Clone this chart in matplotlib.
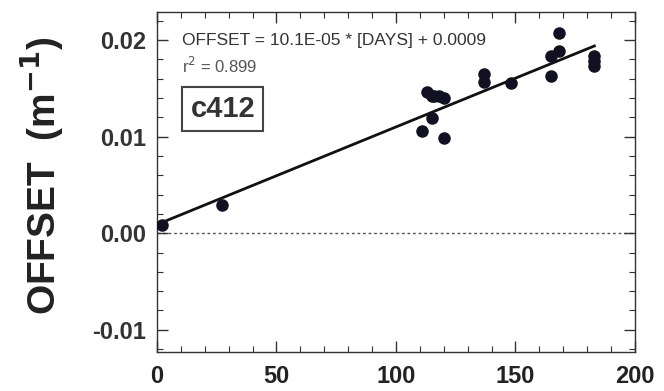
import numpy as np
import matplotlib.pyplot as plt
from matplotlib.ticker import MultipleLocator

days = [2, 27, 111, 113, 115, 116, 118, 120, 115, 120,
        137, 137, 148, 165, 165, 168, 168, 183, 183, 183]
offset = [0.0008, 0.0029, 0.0106, 0.0146, 0.0142, 0.0142, 0.0142, 0.0140, 0.0119, 0.0099,
          0.0165, 0.0157, 0.0155, 0.0183, 0.0163, 0.0207, 0.0189, 0.0183, 0.0178, 0.0173]

slope = 10.1e-05
intercept = 0.0009
r2 = 0.899
fit_days = [0, 183]

plt.rcParams['font.family'] = ['Liberation Sans', 'DejaVu Sans']

fig = plt.figure(figsize=(6.64, 3.91), dpi=100)
ax = fig.add_axes([0.2364, 0.0997, 0.7199, 0.8696])

fit_x = np.array(fit_days)
ax.plot(fit_x, slope * fit_x + intercept, color='#111111', lw=2.0, zorder=3)
ax.plot(days, offset, 'o', color='#111122', ms=8, zorder=4)
ax.axhline(0, color='#555555', lw=1.0, ls=(0, (2, 2)), zorder=1)

ax.set_xlim(0, 200)
ax.set_ylim(-0.0123, 0.0229)
ax.xaxis.set_major_locator(MultipleLocator(50))
ax.xaxis.set_minor_locator(MultipleLocator(10))
ax.yaxis.set_major_locator(MultipleLocator(0.01))
ax.yaxis.set_minor_locator(MultipleLocator(0.002))
ax.yaxis.set_major_formatter(plt.FuncFormatter(lambda v, p: f'{v:.2f}'))

ax.tick_params(which='both', direction='in', top=True, right=True, color='#333333')
ax.tick_params(which='major', length=8, width=1.0)
ax.tick_params(which='minor', length=4, width=0.8)
ax.tick_params(axis='y', labelsize=17, pad=8, labelcolor='#333333')
ax.tick_params(axis='x', labelsize=17, pad=9, labelcolor='#222222')
for lab in ax.get_xticklabels() + ax.get_yticklabels():
    lab.set_fontweight('bold')
for s in ax.spines.values():
    s.set_color('#333333')
    s.set_linewidth(1.0)

fig.text(0.062, 0.55, 'OFFSET  (m$^{\\mathbf{-1}}$)', rotation=90, ha='center', va='center',
         fontsize=28, fontweight='bold', color='#222222')

ax.text(0.052, 0.915, f'OFFSET = {slope * 1e5:.1f}E-05 * [DAYS] + {intercept:.4f}',
        transform=ax.transAxes, fontsize=12.5, color='#333333', va='center')
ax.text(0.052, 0.84, f'r$^2$ = {r2:.3f}', transform=ax.transAxes,
        fontsize=12, color='#555555', va='center')
ax.text(0.138, 0.715, 'c412', transform=ax.transAxes, fontsize=21, fontweight='bold',
        color='#333333', ha='center', va='center',
        bbox=dict(boxstyle='square,pad=0.28', fc='white', ec='#444444', lw=1.5))

fig.savefig('out.png', dpi=100)
